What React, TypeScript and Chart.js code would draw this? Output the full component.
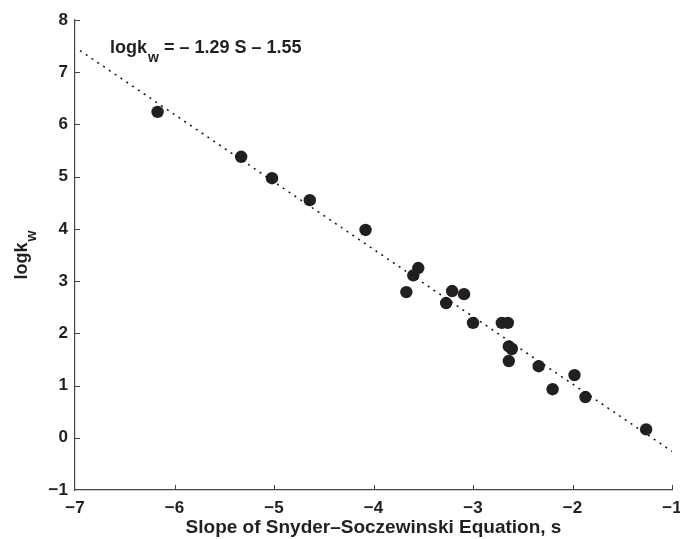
import React, { useEffect, useRef } from 'react';
import { Chart, registerables } from 'chart.js';

Chart.register(...registerables);

// Scatter data: slope of Snyder–Soczewinski equation (s) vs logk_w
const slopeS = [-6.17, -5.33, -5.02, -4.64, -4.08, -3.55, -3.60, -3.67, -3.21, -3.09, -3.27, -3.00, -2.71, -2.65, -2.64, -2.61, -2.64, -2.34, -1.98, -2.20, -1.87, -1.26];
const logKw = [6.24, 5.38, 4.97, 4.55, 3.98, 3.25, 3.11, 2.79, 2.81, 2.75, 2.58, 2.20, 2.20, 2.20, 1.75, 1.70, 1.47, 1.37, 1.20, 0.93, 0.78, 0.16];

// Regression line: logk_w = -1.29 S - 1.55
const FIT_SLOPE = -1.29;
const FIT_INTERCEPT = -1.55;
const FIT_X = [-6.95, -1];

const X_MIN = -7, X_MAX = -1;
const Y_MIN = -1, Y_MAX = 8;

const X_TITLE = 'Slope of Snyder\u2013Soczewinski Equation, s';
const EQ_MAIN = 'logk';
const EQ_SUB = 'w';
const EQ_REST = ' = \u2013 1.29 S \u2013 1.55';
const Y_TITLE_MAIN = 'logk';
const Y_TITLE_SUB = 'w';

const FONT = "'Liberation Sans', Arial, Helvetica, sans-serif";
const INK = '#231f20';

const fmt = (v: number) => (v < 0 ? '\u2212' + Math.abs(v) : String(v));

const annotPlugin = {
  id: 'annot',
  afterDraw(chart: any) {
    const ctx = chart.ctx as CanvasRenderingContext2D;
    const xs = chart.scales.x;
    const ys = chart.scales.y;
    const area = chart.chartArea;
    ctx.save();
    // inward tick marks
    ctx.strokeStyle = '#444';
    ctx.lineWidth = 1;
    ctx.beginPath();
    for (let v = X_MIN + 1; v <= X_MAX; v++) {
      const px = Math.round(xs.getPixelForValue(v)) + 0.5;
      ctx.moveTo(px, area.bottom);
      ctx.lineTo(px, area.bottom - 5);
    }
    for (let v = Y_MIN + 1; v <= Y_MAX; v++) {
      const py = Math.round(ys.getPixelForValue(v)) + 0.5;
      ctx.moveTo(area.left, py);
      ctx.lineTo(area.left + 5, py);
    }
    ctx.stroke();

    // equation text
    ctx.fillStyle = INK;
    ctx.textBaseline = 'alphabetic';
    ctx.textAlign = 'left';
    ctx.font = `bold 18px ${FONT}`;
    const ex = 110, ey = 53;
    ctx.fillText(EQ_MAIN, ex, ey);
    const w1 = ctx.measureText(EQ_MAIN).width;
    ctx.font = `bold 14px ${FONT}`;
    ctx.fillText(EQ_SUB, ex + w1 + 1, ey + 9);
    const w2 = ctx.measureText(EQ_SUB).width;
    ctx.font = `bold 18px ${FONT}`;
    ctx.fillText(EQ_REST, ex + w1 + w2 + 1, ey);

    // y axis title (rotated)
    ctx.font = `bold 18px ${FONT}`;
    const tm = ctx.measureText(Y_TITLE_MAIN).width;
    ctx.font = `bold 14px ${FONT}`;
    const ts = ctx.measureText(Y_TITLE_SUB).width;
    const total = tm + ts + 1;
    const cy = (area.top + area.bottom) / 2;
    ctx.translate(27, cy + total / 2);
    ctx.rotate(-Math.PI / 2);
    ctx.font = `bold 18px ${FONT}`;
    ctx.fillText(Y_TITLE_MAIN, 0, 0);
    ctx.font = `bold 14px ${FONT}`;
    ctx.fillText(Y_TITLE_SUB, tm + 1, 9);
    ctx.restore();
  },
};

export default function App() {
  const ref = useRef<HTMLCanvasElement | null>(null);
  useEffect(() => {
    document.body.style.margin = '0';
    const canvas = ref.current;
    if (!canvas) return;
    const points = slopeS.map((x, i) => ({ x, y: logKw[i] }));
    const fit = FIT_X.map((x) => ({ x, y: FIT_SLOPE * x + FIT_INTERCEPT }));
    const chart = new Chart(canvas, {
      type: 'scatter',
      data: {
        datasets: [
          {
            type: 'line',
            data: fit,
            borderColor: '#111',
            borderWidth: 1.5,
            borderDash: [2, 5],
            pointRadius: 0,
            fill: false,
          } as any,
          {
            data: points,
            backgroundColor: INK,
            borderColor: INK,
            pointRadius: 6.2,
            borderWidth: 0,
          },
        ],
      },
      options: {
        responsive: false,
        animation: false,
        layout: { padding: { top: 20, right: 8, left: 0, bottom: 0 } },
        plugins: { legend: { display: false }, tooltip: { enabled: false } },
        scales: {
          x: {
            type: 'linear',
            min: X_MIN,
            max: X_MAX,
            ticks: {
              stepSize: 1,
              callback: (v: any) => fmt(Number(v)),
              font: { size: 17, weight: 'bold', family: FONT },
              color: INK,
              padding: 8,
              maxRotation: 0,
            },
            grid: { display: false, drawTicks: false },
            border: { display: true, color: '#444', width: 1.2 },
            title: {
              display: true,
              text: X_TITLE,
              font: { size: 19, weight: 'bold', family: FONT },
              color: INK,
              padding: { top: 0, bottom: 0 },
            },
            afterFit: (s: any) => {
              s.height = 49;
              s.paddingLeft = 0;
              s.paddingRight = 0;
            },
          },
          y: {
            type: 'linear',
            min: Y_MIN,
            max: Y_MAX,
            ticks: {
              stepSize: 1,
              callback: (v: any) => fmt(Number(v)),
              font: { size: 17, weight: 'bold', family: FONT },
              color: INK,
              padding: 7,
            },
            grid: { display: false, drawTicks: false },
            border: { display: true, color: '#444', width: 1.2 },
            afterFit: (s: any) => {
              s.width = 75;
              s.paddingTop = 0;
              s.paddingBottom = 0;
            },
          },
        },
      },
      plugins: [annotPlugin],
    });
    return () => chart.destroy();
  }, []);
  return (
    <div style={{ width: 680, height: 539, background: '#fff' }}>
      <canvas ref={ref} width={680} height={539} />
    </div>
  );
}
